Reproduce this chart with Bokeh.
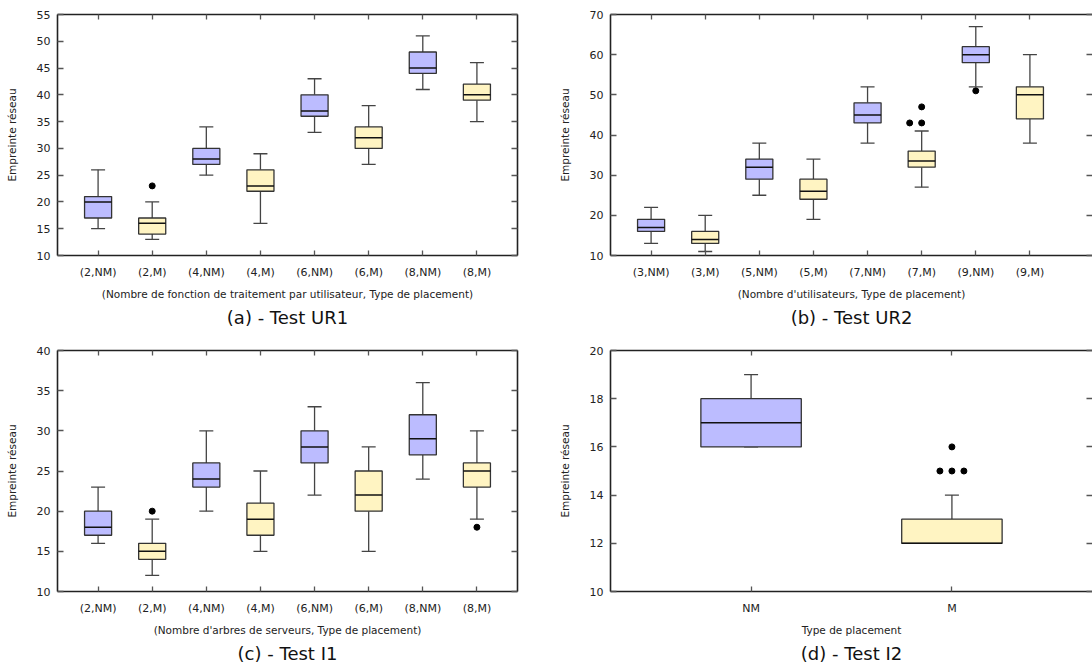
import numpy as np
from bokeh.plotting import figure
from bokeh.layouts import column, row
from bokeh.models import Range1d, FixedTicker, LinearAxis, Title, ColumnDataSource
from bokeh.embed import file_html
from bokeh.resources import INLINE

FONT = "DejaVu Sans"
NM_COLOR = "#BCBCFF"
M_COLOR = "#FFF4C2"
Y_LABEL = "Empreinte réseau"

# ---------------- Panel (a) - Test UR1 ----------------
a_labels = ["(2,NM)", "(2,M)", "(4,NM)", "(4,M)", "(6,NM)", "(6,M)", "(8,NM)", "(8,M)"]
a_low = [15, 13, 25, 16, 33, 27, 41, 35]
a_q1 = [17, 14, 27, 22, 36, 30, 44, 39]
a_med = [20, 16, 28, 23, 37, 32, 45, 40]
a_q3 = [21, 17, 30, 26, 40, 34, 48, 42]
a_high = [26, 20, 34, 29, 43, 38, 51, 46]
a_out_idx = [1]
a_out_val = [23]
a_out_n = [1]

# ---------------- Panel (b) - Test UR2 ----------------
b_labels = ["(3,NM)", "(3,M)", "(5,NM)", "(5,M)", "(7,NM)", "(7,M)", "(9,NM)", "(9,M)"]
b_low = [13, 11, 25, 19, 38, 27, 52, 38]
b_q1 = [16, 13, 29, 24, 43, 32, 58, 44]
b_med = [17, 14, 32, 26, 45, 33.5, 60, 50]
b_q3 = [19, 16, 34, 29, 48, 36, 62, 52]
b_high = [22, 20, 38, 34, 52, 41, 67, 60]
b_out_idx = [5, 5, 6]
b_out_val = [43, 47, 51]
b_out_n = [2, 1, 1]

# ---------------- Panel (c) - Test I1 ----------------
c_labels = ["(2,NM)", "(2,M)", "(4,NM)", "(4,M)", "(6,NM)", "(6,M)", "(8,NM)", "(8,M)"]
c_low = [16, 12, 20, 15, 22, 15, 24, 19]
c_q1 = [17, 14, 23, 17, 26, 20, 27, 23]
c_med = [18, 15, 24, 19, 28, 22, 29, 25]
c_q3 = [20, 16, 26, 21, 30, 25, 32, 26]
c_high = [23, 19, 30, 25, 33, 28, 36, 30]
c_out_idx = [1, 7]
c_out_val = [20, 18]
c_out_n = [1, 1]

# ---------------- Panel (d) - Test I2 ----------------
d_labels = ["NM", "M"]
d_low = [16, 12]
d_q1 = [16, 12]
d_med = [17, 12]
d_q3 = [18, 13]
d_high = [19, 14]
d_out_idx = [1, 1]
d_out_val = [15, 16]
d_out_n = [3, 1]

# ---------------- layout constants ----------------
LEFT_W, RIGHT_W = 542, 550
ROW1_H, ROW2_H = 343, 322
BOX_W = 0.5
CAP_PX = 7
DOT_STEP_PX = 12


def make_panel(labels, low, q1, med, q3, high, out_idx, out_val, out_n,
               ymin, ymax, ystep, xlabel, title, is_left, is_top,
               x_start, ppu):
    n = len(labels)
    width = LEFT_W if is_left else RIGHT_W
    height = ROW1_H if is_top else ROW2_H
    mb_left = 57 if is_left else 68
    mb_right = 25 if is_left else 0
    mb_top = 14 if is_top else 7
    mb_bottom = 88 if is_top else 74
    frame_w = width - mb_left - mb_right
    x_end = x_start + frame_w / ppu

    p = figure(width=width, height=height,
               x_range=Range1d(x_start, x_end), y_range=Range1d(ymin, ymax),
               x_axis_type=None, y_axis_type=None,
               output_backend="svg", toolbar_location=None,
               min_border_left=mb_left, min_border_right=mb_right,
               min_border_top=mb_top, min_border_bottom=mb_bottom)
    p.outline_line_color = None
    p.background_fill_color = "white"
    p.border_fill_color = "white"

    xs = list(range(1, n + 1))
    yticks = [float(v) for v in np.arange(ymin, ymax + ystep / 2, ystep)]

    def base_axis(ticker, show_line=True):
        ax = LinearAxis(ticker=ticker)
        ax.major_tick_in = 6
        ax.major_tick_out = 0
        ax.minor_tick_in = 0
        ax.minor_tick_out = 0
        ax.major_tick_line_color = "#555555"
        ax.major_tick_line_width = 1.3
        ax.axis_line_color = "#222222" if show_line else None
        ax.axis_line_width = 1.6
        ax.major_label_text_font = FONT
        ax.major_label_text_font_size = "11px"
        ax.major_label_text_color = "#222222"
        ax.axis_label_text_font = FONT
        ax.axis_label_text_font_size = "10.5px"
        ax.axis_label_text_font_style = "normal"
        ax.axis_label_text_color = "#222222"
        return ax

    def hide_labels(ax):
        ax.major_label_text_font_size = "0px"
        ax.major_label_standoff = 0
        ax.major_label_text_alpha = 0

    # left axis
    left = base_axis(FixedTicker(ticks=yticks, minor_ticks=[]))
    left.axis_label = Y_LABEL
    left.major_label_standoff = 7
    left.axis_label_standoff = 16
    p.add_layout(left, "left")

    # right axis (ticks only)
    right = base_axis(FixedTicker(ticks=yticks, minor_ticks=[]), show_line=is_left)
    hide_labels(right)
    p.add_layout(right, "right")

    # bottom axis
    bottom = base_axis(FixedTicker(ticks=[float(v) for v in xs], minor_ticks=[]))
    bottom.major_tick_in = 5
    bottom.major_label_overrides = {x: lab for x, lab in zip(xs, labels)}
    bottom.major_label_standoff = 10
    bottom.axis_label = xlabel
    bottom.axis_label_standoff = 6
    p.add_layout(bottom, "below")

    # top axis (ticks only)
    top = base_axis(FixedTicker(ticks=[float(v) for v in xs], minor_ticks=[]))
    top.major_tick_in = 5
    hide_labels(top)
    p.add_layout(top, "above")

    t = Title(text=title, align="center", text_font=FONT, text_font_size="18px",
              text_font_style="normal", text_color="#111111", standoff=4)
    p.add_layout(t, "below")

    colors = [NM_COLOR if "NM" in lab else M_COLOR for lab in labels]
    cap_hw = CAP_PX / ppu
    src = ColumnDataSource(dict(
        x=xs, low=low, q1=q1, med=med, q3=q3, high=high, color=colors,
        bl=[x - BOX_W / 2 for x in xs], br=[x + BOX_W / 2 for x in xs],
        cl=[x - cap_hw for x in xs], cr=[x + cap_hw for x in xs],
    ))

    # whiskers
    for y0, y1 in (("q3", "high"), ("q1", "low")):
        p.segment(x0="x", y0=y0, x1="x", y1=y1, source=src,
                  line_color="#444444", line_width=1.3)
    for y in ("high", "low"):
        p.segment(x0="cl", y0=y, x1="cr", y1=y, source=src,
                  line_color="#444444", line_width=1.3)
    # boxes
    p.vbar(x="x", width=BOX_W, top="q3", bottom="q1", source=src,
           fill_color="color", line_color="#333333", line_width=1.3)
    # medians
    p.segment(x0="bl", y0="med", x1="br", y1="med", source=src,
              line_color="#111111", line_width=1.5)

    # outliers (repeated values spread horizontally)
    ox, oy = [], []
    for idx, val, cnt in zip(out_idx, out_val, out_n):
        for j in range(cnt):
            ox.append(xs[idx] + (j - cnt // 2) * DOT_STEP_PX / ppu)
            oy.append(val)
    p.scatter(x=ox, y=oy, size=6, color="#000000")
    return p


PPU8 = 460 / 8.5     # pixels per category, 8-category panels
PPU2 = 482 / 2.4     # pixels per category, 2-category panel

pa = make_panel(a_labels, a_low, a_q1, a_med, a_q3, a_high, a_out_idx, a_out_val, a_out_n,
                10, 55, 5, "(Nombre de fonction de traitement par utilisateur, Type de placement)",
                "(a) - Test UR1", True, True, 0.25, PPU8)
pb = make_panel(b_labels, b_low, b_q1, b_med, b_q3, b_high, b_out_idx, b_out_val, b_out_n,
                10, 70, 10, "(Nombre d'utilisateurs, Type de placement)",
                "(b) - Test UR2", False, True, 0.25, PPU8)
pc = make_panel(c_labels, c_low, c_q1, c_med, c_q3, c_high, c_out_idx, c_out_val, c_out_n,
                10, 40, 5, "(Nombre d'arbres de serveurs, Type de placement)",
                "(c) - Test I1", True, False, 0.25, PPU8)
pd = make_panel(d_labels, d_low, d_q1, d_med, d_q3, d_high, d_out_idx, d_out_val, d_out_n,
                10, 20, 2, "Type de placement",
                "(d) - Test I2", False, False, 0.3, PPU2)

layout = column(row(pa, pb, spacing=0), row(pc, pd, spacing=0), spacing=0)
open("out.html", "w").write(file_html(layout, INLINE))
